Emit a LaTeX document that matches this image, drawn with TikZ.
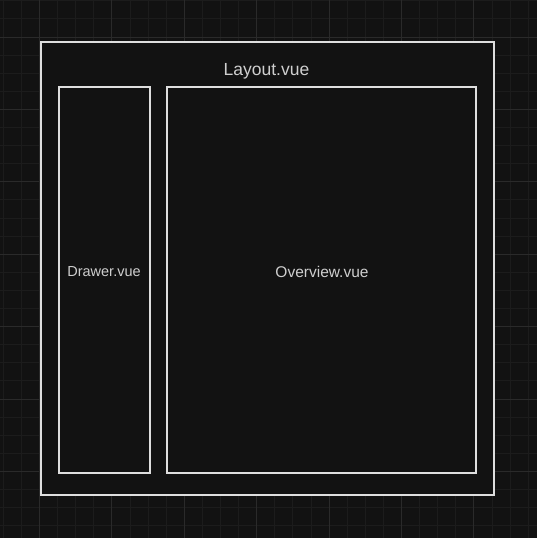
\documentclass[tikz,border=0pt]{standalone}
\usepackage{fontspec}
\setmainfont{Liberation Sans}
\usetikzlibrary{fit}
\definecolor{bg}{HTML}{121212}
\definecolor{minorgrid}{HTML}{1C1C1C}
\definecolor{majorgrid}{HTML}{2A2A2A}
\definecolor{boxline}{HTML}{DEDEDE}
\definecolor{labeltext}{HTML}{CFCFCF}
\tikzset{
  comp/.style={draw=boxline, fill=bg, line width=2pt, inner sep=0pt, rectangle},
  lbl/.style={text=labeltext, inner sep=0pt},
}
\begin{document}
\begin{tikzpicture}[x=1pt,y=-1pt]
\fill[bg] (0,0) rectangle (537,538);
\useasboundingbox (0,0) rectangle (537,538);
% minor grid
\foreach \i in {0,...,30} {
  \pgfmathsetmacro{\xx}{3.3+18.1*\i}
  \pgfmathsetmacro{\yy}{0.8+18.1*\i}
  \draw[minorgrid, line width=1pt] (\xx,0) -- (\xx,538);
  \draw[minorgrid, line width=1pt] (0,\yy) -- (537,\yy);
}
% major grid
\foreach \i in {0,...,7} {
  \pgfmathsetmacro{\xx}{39.5+72.4*\i}
  \pgfmathsetmacro{\yy}{37+72.4*\i}
  \draw[majorgrid, line width=1pt] (\xx,0) -- (\xx,538);
  \draw[majorgrid, line width=1pt] (0,\yy) -- (537,\yy);
}
% boxes
\coordinate (lnw) at (41,42);
\coordinate (lse) at (493.8,495);
\coordinate (dnw) at (59,87);
\coordinate (dse) at (149.5,473);
\coordinate (onw) at (167.3,87);
\coordinate (ose) at (475.8,473);
\node[comp, fit=(lnw)(lse)] (layout) {};
\node[comp, fit=(dnw)(dse)] (drawer) {};
\node[comp, fit=(onw)(ose)] (overview) {};
% labels
\node[lbl, font=\fontsize{17.5}{20}\selectfont] (layoutlbl) at (266.5,71.2) {Layout.vue};
\node[lbl, font=\fontsize{14.5}{17}\selectfont] (drawerlbl) at (104,271.8) {Drawer.vue};
\node[lbl, font=\fontsize{15.5}{18}\selectfont] (overviewlbl) at (322,271.8) {Overview.vue};
\end{tikzpicture}
\end{document}
